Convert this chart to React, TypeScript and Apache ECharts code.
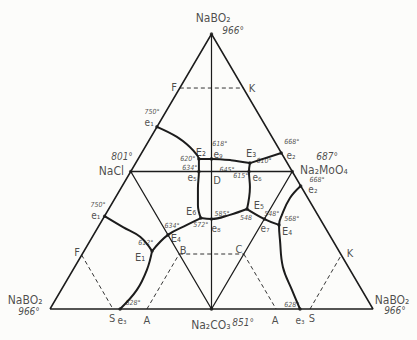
import React, { useEffect, useRef } from "react";
import * as echarts from "echarts";

// Composition plane: left NaBO2 (0,0), right NaBO2 (100,0), top NaBO2 (50,85)
const OUTER = [[0, 0], [100, 0], [50, 85], [0, 0]];
const INNER = [[25, 42.5], [75, 42.5], [50, 0], [25, 42.5]];
const MEDIAN = [[50, 85], [50, 0]];

const DASHED = [
  [[40.2, 68.3], [59.8, 68.3]],
  [[9.8, 16.7], [19.5, 0]],
  [[30, 0], [40, 17]],
  [[40, 17], [60, 17]],
  [[60, 17], [70, 0]],
  [[80.5, 0], [90.2, 16.7]],
];

// Phase boundaries (univariant curves)
const CURVE_E1_E2 = [[33.1, 56.3], [39.3, 53.2], [43.3, 50.1], [45.5, 47.6], [46.1, 46.4]];
const CURVE_E2_E3 = [[46.1, 46.4], [50, 46.4], [56, 46.0], [61.9, 45.1]];
const CURVE_E3_E2R = [[61.9, 45.1], [71.6, 48.2]];
const CURVE_E2_E6 = [[46.1, 46.4], [46.1, 42.5], [45.8, 37.4], [45.8, 32.1], [46.7, 28.1]];
const CURVE_E6_E5 = [[46.7, 28.1], [50, 27.8], [55.7, 29.1], [61.0, 30.9]];
const CURVE_E3_E5 = [[61.9, 45.1], [61.6, 42.5], [61.9, 37.7], [61.0, 30.9]];
const CURVE_E5_E4 = [[61.0, 30.9], [66.4, 27.8], [70.9, 26.0]];
const CURVE_E2R_E3R = [[77.6, 38.0], [74.3, 34.3], [71.8, 29.1], [70.9, 26.0], [71.2, 21.3], [72.1, 13.0], [74.9, 5.9], [77.4, 0]];
const CURVE_E1L_E1 = [[16.9, 28.7], [22.6, 25.3], [27.9, 22.3], [31.6, 17.9]];
const CURVE_E1_E6 = [[31.6, 17.9], [36.5, 22.9], [42.4, 26.0], [46.7, 28.1]];
const CURVE_E1_E3 = [[31.6, 17.9], [30.0, 12.1], [26.9, 5.9], [21.7, 0]];
const CURVES = [
  CURVE_E1_E2, CURVE_E2_E3, CURVE_E3_E2R, CURVE_E2_E6, CURVE_E6_E5, CURVE_E3_E5,
  CURVE_E5_E4, CURVE_E2R_E3R, CURVE_E1L_E1, CURVE_E1_E6, CURVE_E1_E3,
];

const POINTS = [
  [33.1, 56.3], [46.1, 46.4], [50, 46.4], [46.1, 42.5], [61.9, 45.1], [61.6, 42.5],
  [71.6, 48.2], [61.0, 30.9], [66.4, 27.8], [70.9, 26.0], [77.6, 38.0], [77.4, 0],
  [50, 27.8], [46.7, 28.1], [36.5, 22.9], [31.6, 17.9], [16.9, 28.7], [21.7, 0],
  [25, 42.5], [75, 42.5], [50, 0], [50, 85],
];

const COMPOUNDS: [string, number, number][] = [
  ["NaBO₂", 50.5, 89.9],
  ["NaCl", 19.0, 42.7],
  ["Na₂MoO₄", 84.8, 43.0],
  ["Na₂CO₃", 49.8, -4.9],
  ["NaBO₂", -7.7, 2.8],
  ["NaBO₂", 105.9, 2.8],
];

const LETTERS: [string, number, number][] = [
  ["F", 38.4, 68.6], ["K", 62.5, 68.3], ["B", 41.2, 18.2], ["C", 58.5, 18.5],
  ["S", 19.2, -2.8], ["A", 30.0, -3.4], ["F", 8.4, 17.6], ["A", 69.7, -3.4],
  ["S", 81.1, -2.8], ["K", 92.9, 17.3], ["D", 51.7, 39.6],
  ["E₁", 27.9, 15.8], ["E₄", 39.0, 21.9], ["E₆", 43.7, 30.0], ["E₅", 64.7, 32.1],
  ["E₄", 73.4, 24.1], ["E₃", 62.3, 48.1], ["E₂", 46.7, 48.5],
];

const SMALL_LETTERS: [string, number, number][] = [
  ["e₁", 30.7, 57.6], ["e₁", 14.2, 28.8], ["e₃", 22.3, -3.4], ["e₃", 77.4, -3.4],
  ["e₈", 51.4, 25.0], ["e₇", 66.6, 25.0], ["e₂", 81.4, 36.8], ["e₂", 74.6, 47.3],
  ["e₆", 64.1, 40.5], ["e₉", 52.0, 47.8], ["e₅", 44.0, 40.8],
];

const BIG_TEMPS: [string, number, number][] = [
  ["966°", 56.7, 86.2], ["801°", 22.3, 47.0], ["966°", -6.5, -0.9],
  ["851°", 59.8, -4.3], ["966°", 106.8, -0.6], ["687°", 85.8, 47.0],
];

const TEMPS: [string, number, number][] = [
  ["750°", 31.6, 61.0], ["750°", 14.9, 32.3], ["612°", 29.7, 20.4], ["628°", 25.7, 1.9],
  ["634°", 37.8, 25.7], ["628°", 74.9, 1.2], ["572°", 46.7, 26.0], ["585°", 53.3, 29.4],
  ["548", 60.7, 28.1], ["548°", 68.7, 29.4], ["568°", 74.9, 27.8], ["668°", 82.7, 40.0],
  ["668°", 74.9, 51.6], ["610°", 66.3, 45.7], ["615°", 59.1, 41.1], ["618°", 52.6, 51.1],
  ["620°", 42.7, 46.4], ["634°", 43.3, 43.6], ["645°", 54.8, 43.0],
];

const INK = "#1c1c1c";
const FONT = "'Liberation Sans Narrow', 'DejaVu Sans Condensed', 'Liberation Sans', sans-serif";

function lineSeries(data: number[][], width: number, dashed = false, smooth: number | boolean = false) {
  return {
    type: "line",
    data,
    smooth,
    symbol: "none",
    clip: false,
    silent: true,
    lineStyle: { color: INK, width, type: dashed ? [4, 3] : "solid" },
  };
}

function labelSeries(items: [string, number, number][], size: number, italic: boolean) {
  return {
    type: "scatter",
    symbolSize: 0,
    clip: false,
    silent: true,
    data: items.map(([t, x, y]) => ({ name: t, value: [x, y] })),
    label: {
      show: true,
      position: "inside",
      formatter: "{b}",
      color: INK,
      fontSize: size,
      fontFamily: FONT,
      fontStyle: italic ? "italic" : "normal",
    },
  };
}

export default function App() {
  const ref = useRef<HTMLDivElement>(null);
  useEffect(() => {
    if (!ref.current) return;
    const chart = echarts.init(ref.current, null, { renderer: "svg" });
    const series: any[] = [
      lineSeries(OUTER, 1.5),
      lineSeries(INNER, 1.3),
      lineSeries(MEDIAN, 1.2),
      ...DASHED.map((d) => lineSeries(d, 0.9, true)),
      ...CURVES.map((c) => lineSeries(c, 2, false, 0.4)),
      {
        type: "scatter",
        data: POINTS,
        symbolSize: 3.5,
        clip: false,
        silent: true,
        itemStyle: { color: INK },
      },
      labelSeries(COMPOUNDS, 12, false),
      labelSeries(LETTERS, 11, false),
      labelSeries(SMALL_LETTERS, 10, false),
      labelSeries(BIG_TEMPS, 10, true),
      labelSeries(TEMPS, 7, true),
    ];
    chart.setOption({
      animation: false,
      backgroundColor: "#fcfcfa",
      grid: { left: 50, right: 44, top: 34, bottom: 31 },
      xAxis: { type: "value", min: 0, max: 100, show: false },
      yAxis: { type: "value", min: 0, max: 85, show: false },
      series,
    });
    return () => chart.dispose();
  }, []);
  return (
    <div
      ref={ref}
      style={{ position: "fixed", left: 0, top: 0, width: 417, height: 340 }}
    />
  );
}
